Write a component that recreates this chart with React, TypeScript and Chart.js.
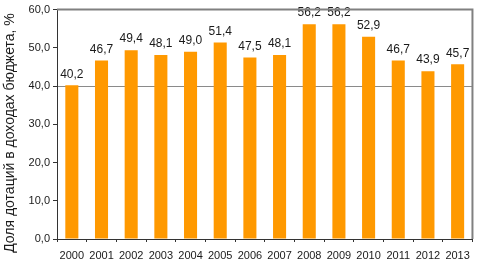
import React, { useEffect, useRef } from "react";
import { Chart, registerables } from "chart.js";

Chart.register(...registerables);

const years = ["2000", "2001", "2002", "2003", "2004", "2005", "2006", "2007", "2008", "2009", "2010", "2011", "2012", "2013"];
const shares = [40.2, 46.7, 49.4, 48.1, 49.0, 51.4, 47.5, 48.1, 56.2, 56.2, 52.9, 46.7, 43.9, 45.7];
const yTitle = "Доля дотаций в доходах бюджета, %";

const FONT = "'Liberation Sans', Arial, sans-serif";
const fmt = (v: number) => v.toFixed(1).replace(".", ",");

const labelsPlugin = {
  id: "barLabels",
  afterDatasetsDraw(chart: any) {
    const ctx = chart.ctx;
    const meta = chart.getDatasetMeta(0);
    ctx.save();
    ctx.font = `12px ${FONT}`;
    ctx.fillStyle = "#1a1a1a";
    ctx.textAlign = "center";
    ctx.textBaseline = "bottom";
    meta.data.forEach((bar: any, i: number) => {
      ctx.fillText(fmt(shares[i]), bar.x, bar.y - 5);
    });
    ctx.restore();
  },
};

const framePlugin = {
  id: "frame",
  afterDraw(chart: any) {
    const { ctx, chartArea } = chart;
    ctx.save();
    ctx.strokeStyle = "#808080";
    ctx.lineWidth = 2;
    ctx.beginPath();
    ctx.moveTo(chartArea.left, chartArea.top);
    ctx.lineTo(chartArea.right, chartArea.top);
    ctx.lineTo(chartArea.right, chartArea.bottom);
    ctx.stroke();
    // y-axis title
    ctx.translate(10, 133);
    ctx.rotate(-Math.PI / 2);
    ctx.font = `14px ${FONT}`;
    ctx.fillStyle = "#1a1a1a";
    ctx.textAlign = "center";
    ctx.textBaseline = "middle";
    ctx.fillText(yTitle, 0, 0);
    ctx.restore();
  },
};

export default function App() {
  const ref = useRef<HTMLCanvasElement>(null);
  useEffect(() => {
    if (!ref.current) return;
    const chart = new Chart(ref.current, {
      type: "bar",
      data: {
        labels: years,
        datasets: [
          {
            data: shares,
            backgroundColor: "#FF9900",
            barPercentage: 0.44,
            categoryPercentage: 1,
          },
        ],
      },
      options: {
        animation: false,
        responsive: false,
        maintainAspectRatio: false,
        layout: { padding: { top: 5, right: 4, left: 0, bottom: 0 } },
        plugins: { legend: { display: false }, tooltip: { enabled: false } },
        scales: {
          x: {
            offset: true,
            grid: {
              offset: true,
              drawOnChartArea: false,
              drawTicks: true,
              tickLength: 3,
              color: "#333",
            },
            border: { color: "#333", width: 1 },
            ticks: {
              font: { family: FONT, size: 11 },
              color: "#1a1a1a",
              padding: 7,
              maxRotation: 0,
              autoSkip: false,
            },
            afterFit(scale: any) {
              scale.height = 21;
            },
          },
          y: {
            min: 0,
            max: 60,
            ticks: {
              stepSize: 10,
              font: { family: FONT, size: 11 },
              color: "#1a1a1a",
              padding: 3,
              callback: (v: any) => fmt(Number(v)),
            },
            grid: {
              color: (c: any) => (c.tick && c.tick.value === 40 ? "#8a8a8a" : "rgba(0,0,0,0)"),
              tickColor: "#333",
              tickLength: 4,
              drawTicks: true,
            },
            border: { color: "#333", width: 1 },
            afterFit(scale: any) {
              scale.width = 57;
            },
          },
        },
      },
      plugins: [labelsPlugin, framePlugin],
    });
    return () => chart.destroy();
  }, []);
  return (
    <div style={{ position: "fixed", left: 0, top: 0, width: 477, height: 260, background: "#fff" }}>
      <canvas ref={ref} width={477} height={260} style={{ width: 477, height: 260 }} />
    </div>
  );
}
